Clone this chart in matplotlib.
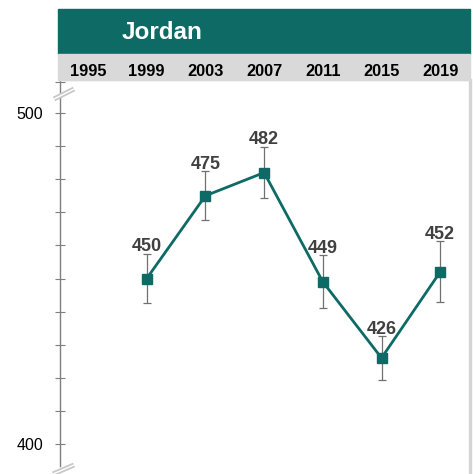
import matplotlib
matplotlib.use("Agg")
import matplotlib.pyplot as plt
import matplotlib.transforms as mtransforms
from matplotlib.patches import Rectangle
from matplotlib.lines import Line2D

plt.rcParams['font.family'] = ['Liberation Sans', 'DejaVu Sans']

# data
country = "Jordan"
axis_years = [1995, 1999, 2003, 2007, 2011, 2015, 2019]
years = [1999, 2003, 2007, 2011, 2015, 2019]
scores = [450, 475, 482, 449, 426, 452]
errors = [7.5, 7.4, 7.8, 8.0, 6.6, 9.2]
major_ticks = [400, 500]
minor_ticks = [410, 420, 430, 440, 450, 460, 470, 480, 490, 509.4]

teal = '#0e6a65'
W, H = 473, 474

def fx(px):
    return px / W

def fy(py):
    return 1 - py / H

fig = plt.figure(figsize=(W / 100, H / 100), dpi=100)

# main plot area (pixel layout of the reference)
ax = fig.add_axes([fx(60), fy(474), fx(470) - fx(60), fy(80) - fy(474)])
ax.set_xlim(1993.09, 2021.03)
ax.set_ylim(390.94, 509.97)

ax.errorbar(years, scores, yerr=errors, fmt='none', ecolor='#707070',
            elinewidth=0.9, capsize=3, capthick=0.9, zorder=2)
ax.plot(years, scores, color=teal, lw=2.0, marker='s', ms=7.5,
        markeredgecolor=teal, zorder=3)

for x, v, e in zip(years, scores, errors):
    ax.annotate(str(v), (x, v + e), xytext=(0, 1.8), textcoords='offset points',
                ha='center', va='baseline', fontsize=13, fontweight='bold',
                color='#404040')

# axes styling
ax.spines['bottom'].set_visible(False)
ax.spines['top'].set_color('#d9d9d9')
ax.spines['top'].set_linewidth(1)
ax.spines['right'].set_color('#d4d4d4')
ax.spines['right'].set_linewidth(2.4)
ax.spines['left'].set_color('#7f7f7f')
ax.spines['left'].set_linewidth(1)
ax.spines['left'].set_bounds(393.5, 509.97)

ax.set_xticks([])
ax.set_yticks(major_ticks)
ax.set_yticks(minor_ticks, minor=True)
ax.tick_params(axis='y', which='both', direction='inout', length=7,
               width=0.8, color='#7f7f7f')
ax.tick_params(axis='y', which='major', labelsize=11.5, pad=8.5,
               labelcolor='black')

# header bands
fig.patches.append(Rectangle((fx(58), fy(54)), fx(470) - fx(58), fy(9) - fy(54),
                             transform=fig.transFigure, color=teal, zorder=0))
fig.patches.append(Rectangle((fx(58), fy(80)), fx(470) - fx(58), fy(54) - fy(80),
                             transform=fig.transFigure, color='#d9d9d9', zorder=0))
fig.text(fx(122), fy(39.3), country, color='white', fontsize=17.5,
         fontweight='bold', ha='left', va='baseline')

trans = mtransforms.blended_transform_factory(ax.transData, fig.transFigure)
for yr in axis_years:
    fig.text(yr, fy(75.5), str(yr), transform=trans, ha='center', va='baseline',
             fontsize=11.8, fontweight='bold', color='black')

# axis break marks
for (x0, y0, x1, y1) in [(54, 99, 74, 89), (53, 474, 74, 465)]:
    for lw, c in [(3.6, '#c8c8c8'), (1.0, 'white')]:
        fig.lines.append(Line2D([fx(x0), fx(x1)], [fy(y0), fy(y1)],
                                transform=fig.transFigure, lw=lw, color=c,
                                solid_capstyle='butt', zorder=5))

fig.savefig('out.png', dpi=100)
